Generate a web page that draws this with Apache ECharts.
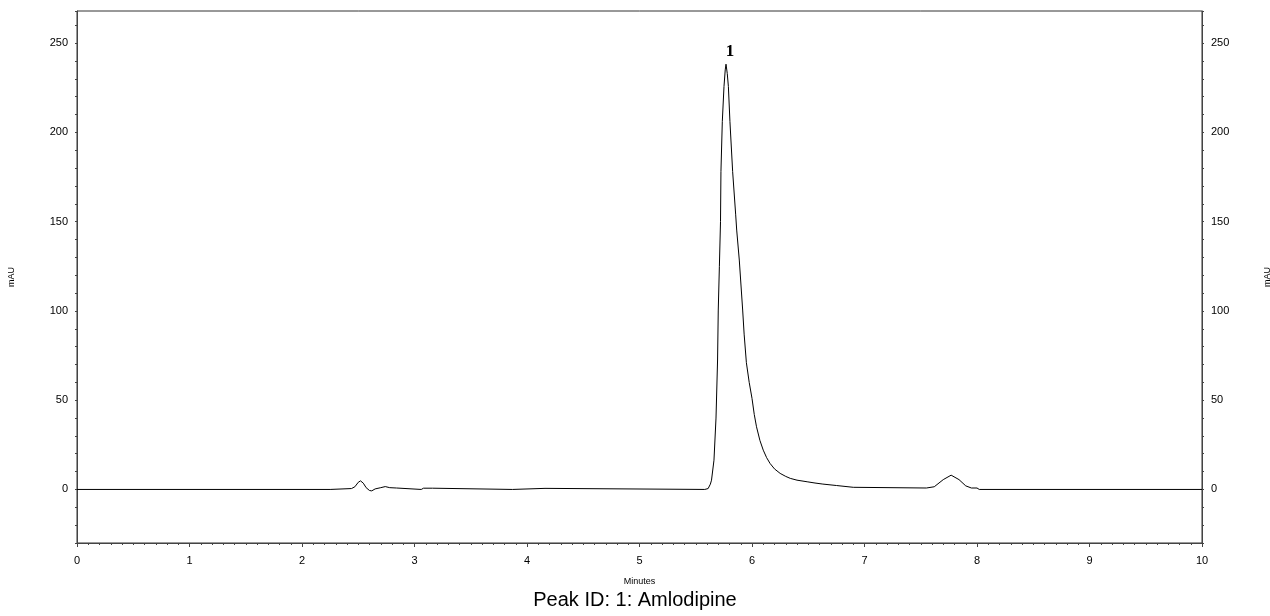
<!DOCTYPE html>
<html>
<head>
<meta charset="utf-8">
<script src="https://cdn.jsdelivr.net/npm/echarts@6/dist/echarts.min.js"></script>
<style>html,body{margin:0;padding:0;background:#fff}#c{width:1270px;height:616px}</style>
</head>
<body>
<div id="c"></div>
<script>
const times = [0,2.25,2.26,2.44,2.47,2.50,2.52,2.545,2.57,2.60,2.62,2.65,2.70,2.74,2.78,2.84,2.855,3.06,3.08,3.16,3.175,3.87,3.88,4.16,4.17,5.58,5.61,5.63,5.64,5.662,5.68,5.694,5.70,5.71,5.72,5.724,5.736,5.751,5.762,5.769,5.78,5.79,5.804,5.828,5.855,5.864,5.887,5.917,5.93,5.95,5.975,6.0,6.02,6.04,6.07,6.10,6.13,6.16,6.20,6.25,6.30,6.34,6.40,6.49,6.56,6.63,6.75,6.90,6.91,7.55,7.62,7.70,7.77,7.84,7.90,7.95,8.00,8.02,10];
const values = [0,0,0.5,0.5,1.5,4.0,4.8,3.5,1.0,-0.6,-0.8,0.3,1.0,1.6,1.0,0.8,0,0,0.7,0.7,0,0,0.6,0.6,0,0,0.5,3.0,5.2,16.4,40,72.5,100.5,125,150,178,206,225.7,235,238.2,233,225.7,206,178,153.8,145.3,128.5,100.5,87,71,60,51,42,35.1,27.5,22,17.8,14.6,11.5,9.0,7.3,6.2,5.2,4.3,3.6,3.0,2.2,1.2,0.8,0.8,1.5,5.5,8.0,5.5,2.0,0.8,0.8,0,0];
const peakLabels = [{name:'1', x:5.769, y:238.2}];
const xTicks = {min:0, max:10, interval:1};
const yLabelsEvery = 50;

const chart = echarts.init(document.getElementById('c'), null, {renderer:'canvas'});
const font = 'Liberation Sans, Arial, sans-serif';
const yAxisCommon = {
  type:'value', min:-30, max:268, interval:10,
  axisLine:{show:true, lineStyle:{color:'#444', width:1}},
  axisTick:{show:true, length:2, lineStyle:{color:'#444'}},
  splitLine:{show:false},
  axisLabel:{fontFamily:font, fontSize:11, color:'#000', margin:9,
    formatter:v => (v % yLabelsEvery === 0 ? String(v) : '')},
  name:'mAU', nameLocation:'middle', nameGap:61,
  nameTextStyle:{fontFamily:font, fontSize:9, color:'#000'}
};
chart.setOption({
  animation:false,
  grid:{left:77, right:68, top:11, bottom:73, show:true, borderColor:'#333', borderWidth:1,
    containLabel:false, outerBoundsMode:'none'},
  title:{text:'Peak ID: 1: Amlodipine', left:'center', top:585,
    textStyle:{fontFamily:font, fontSize:20, fontWeight:'normal', color:'#000'}},
  xAxis:{type:'value', min:xTicks.min, max:xTicks.max, interval:xTicks.interval,
    axisLine:{show:true, onZero:false, lineStyle:{color:'#444'}},
    axisTick:{show:true, length:4, lineStyle:{color:'#444'}},
    minorTick:{show:true, splitNumber:10, length:2, lineStyle:{color:'#444'}},
    splitLine:{show:false},
    axisLabel:{fontFamily:font, fontSize:11, color:'#000', margin:12},
    name:'Minutes', nameLocation:'middle', nameGap:34,
    nameTextStyle:{fontFamily:font, fontSize:9, color:'#000'}},
  yAxis:[
    Object.assign({}, yAxisCommon, {position:'left'}),
    Object.assign({}, yAxisCommon, {position:'right', nameRotate:90})
  ],
  series:[{
    type:'line', showSymbol:false, symbol:'none', sampling:null,
    data: times.map((t,i)=>[t, values[i]]),
    lineStyle:{color:'#000', width:1},
    markPoint:{
      symbol:'circle', symbolSize:0,
      label:{show:true, position:'top', distance:4, offset:[4,0], formatter:p=>p.name,
        fontFamily:'Liberation Serif, DejaVu Serif, serif', fontWeight:'bold', fontSize:17, color:'#000'},
      data: peakLabels.map(p=>({name:p.name, coord:[p.x, p.y]}))
    }
  }]
});
</script>
</body>
</html>
